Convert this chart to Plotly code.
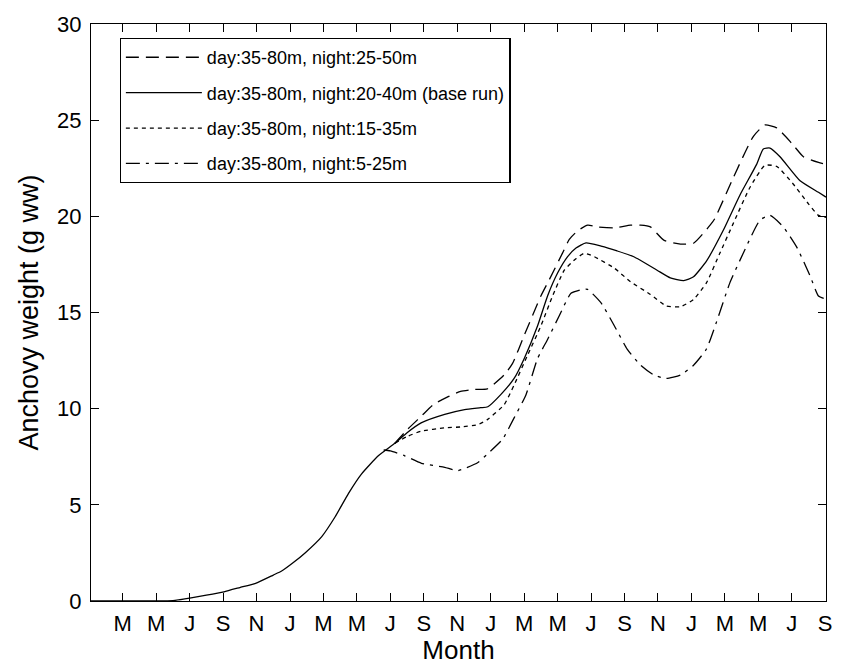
import plotly.graph_objects as go

# ---- data (x in months from Jan of year 1; y = anchovy weight, g ww) ----
tick_vals = [3, 5, 7, 9, 11, 13, 15, 17, 19, 21, 23, 25, 27, 29, 31, 33, 35, 37, 39, 41, 43, 45]
tick_text = ["M", "M", "J", "S", "N", "J", "M", "M", "J", "S", "N",
             "J", "M", "M", "J", "S", "N", "J", "M", "M", "J", "S"]

base_x = [1.1, 5.0, 6.0, 7.0, 8.0, 9.05, 10.0, 10.94, 12.0, 12.5, 13.2, 13.9, 14.9, 15.7,
          16.5, 17.27, 18.28, 19.27, 20.0, 20.84, 22.25, 23.44, 24.4, 24.83, 25.6, 26.4,
          27.0, 27.8, 28.4, 29.0, 29.6, 30.1, 30.7, 31.6, 32.56, 33.56, 34.95, 35.74,
          36.54, 37.13, 37.92, 38.9, 39.9, 40.9, 41.3, 41.7, 42.3, 43.5, 44.6, 45.05]
base_y = [0.0, 0.0, 0.02, 0.15, 0.3, 0.48, 0.7, 0.92, 1.35, 1.56, 2.0, 2.5, 3.35, 4.38,
          5.6, 6.6, 7.55, 8.2, 8.75, 9.26, 9.7, 9.95, 10.05, 10.1, 10.73, 11.57,
          12.6, 14.3, 15.86, 17.05, 17.9, 18.35, 18.62, 18.45, 18.2, 17.9, 17.2, 16.8,
          16.66, 16.86, 17.7, 19.26, 21.1, 22.7, 23.5, 23.55, 23.1, 21.85, 21.25, 21.0]

deep_x = [19.27, 20.0, 20.84, 21.55, 22.4, 23.2, 24.0, 24.8, 25.8, 26.3, 27.0, 28.0, 28.5,
          29.3, 29.7, 30.2, 30.8, 31.4, 32.4, 33.36, 33.96, 34.55, 35.35, 36.35, 37.13,
          38.12, 38.4, 39.5, 40.7, 41.4, 42.1, 43.0, 43.7, 44.6, 45.05]
deep_y = [8.2, 8.9, 9.6, 10.2, 10.6, 10.9, 11.0, 11.03, 11.75, 12.34, 13.8, 15.86, 16.7,
          18.1, 18.8, 19.25, 19.54, 19.45, 19.4, 19.54, 19.54, 19.45, 18.76, 18.56, 18.6,
          19.54, 19.88, 22.0, 24.15, 24.75, 24.6, 23.8, 23.1, 22.8, 22.7]

shal_x = [19.27, 20.0, 20.84, 22.25, 23.2, 24.24, 24.8, 25.8, 26.4, 27.2, 28.0, 28.7, 29.4,
          30.1, 30.6, 31.2, 32.4, 33.36, 34.55, 35.5, 36.35, 37.13, 37.9, 38.7, 39.5,
          40.5, 41.4, 42.1, 43.1, 44.0, 44.6, 45.05]
shal_y = [8.2, 8.55, 8.83, 9.0, 9.05, 9.17, 9.43, 10.2, 11.23, 12.77, 14.3, 15.86, 17.2,
          17.8, 18.08, 17.9, 17.3, 16.6, 15.94, 15.34, 15.3, 15.68, 16.54, 18.08, 19.62,
          21.5, 22.65, 22.6, 21.67, 20.65, 20.05, 19.95]

surf_x = [18.6, 19.0, 19.86, 20.86, 22.25, 23.04, 24.24, 24.8, 25.7, 26.4, 27.1, 27.8, 28.4,
          29.1, 29.8, 30.5, 30.8, 31.6, 32.4, 33.16, 33.96, 34.75, 35.5, 36.35, 37.13,
          37.9, 38.5, 39.3, 40.1, 41.1, 41.7, 42.5, 43.3, 44.1, 44.6, 45.05]
surf_y = [7.85, 7.8, 7.55, 7.16, 6.95, 6.78, 7.2, 7.64, 8.4, 9.52, 10.7, 12.6, 13.6,
          14.83, 16.0, 16.2, 16.2, 15.5, 14.3, 13.1, 12.26, 11.75, 11.57, 11.75, 12.26,
          13.1, 14.5, 16.54, 18.08, 19.8, 20.05, 19.45, 18.4, 16.9, 15.86, 15.7]

names = ["day:35-80m, night:25-50m",
         "day:35-80m, night:20-40m (base run)",
         "day:35-80m, night:15-35m",
         "day:35-80m, night:5-25m"]

FONT = "Liberation Sans, Arial, Helvetica, sans-serif"

fig = go.Figure()
series = [(deep_x, deep_y, "13px,7px"),
          (base_x, base_y, "solid"),
          (shal_x, shal_y, "4px,4px"),
          (surf_x, surf_y, "14px,6px,3px,6px")]
for i, ((xs, ys, dash), nm) in enumerate(zip(series, names)):
    fig.add_trace(go.Scatter(
        x=xs, y=ys, mode="lines", name=nm, legendgroup=f"g{i}",
        line=dict(color="black", width=1.3, dash=dash, shape="spline", smoothing=0.5),
    ))

axis_common = dict(
    showline=True, linecolor="black", linewidth=1.2, mirror="ticks",
    ticks="inside", ticklen=8, tickwidth=1.2, tickcolor="black",
    showgrid=False, zeroline=False,
    tickfont=dict(family=FONT, size=22, color="black"),
)

fig.update_layout(
    width=845, height=668,
    margin=dict(l=91, r=12, t=18, b=66),
    paper_bgcolor="white", plot_bgcolor="white",
    font=dict(family=FONT, color="black"),
    xaxis=dict(range=[1.1, 45.05], tickmode="array", tickvals=tick_vals, ticktext=tick_text,
               ticklabelstandoff=2,
               title=dict(text="Month", font=dict(family=FONT, size=26), standoff=2),
               **axis_common),
    yaxis=dict(range=[0, 30], tickmode="array", tickvals=[0, 5, 10, 15, 20, 25, 30],
               ticklabelstandoff=4,
               title=dict(text="Anchovy weight (g ww)", font=dict(family=FONT, size=27), standoff=10),
               **axis_common),
    legend=dict(x=0.039, y=0.976, xanchor="left", yanchor="top",
                bgcolor="white", bordercolor="black", borderwidth=1.2,
                font=dict(family=FONT, size=18, color="black"),
                itemwidth=76, tracegroupgap=9),
    showlegend=True,
)

fig.write_html("out.html", config={"displayModeBar": False},
               post_script="document.body.style.margin='0';document.body.style.padding='0';")
